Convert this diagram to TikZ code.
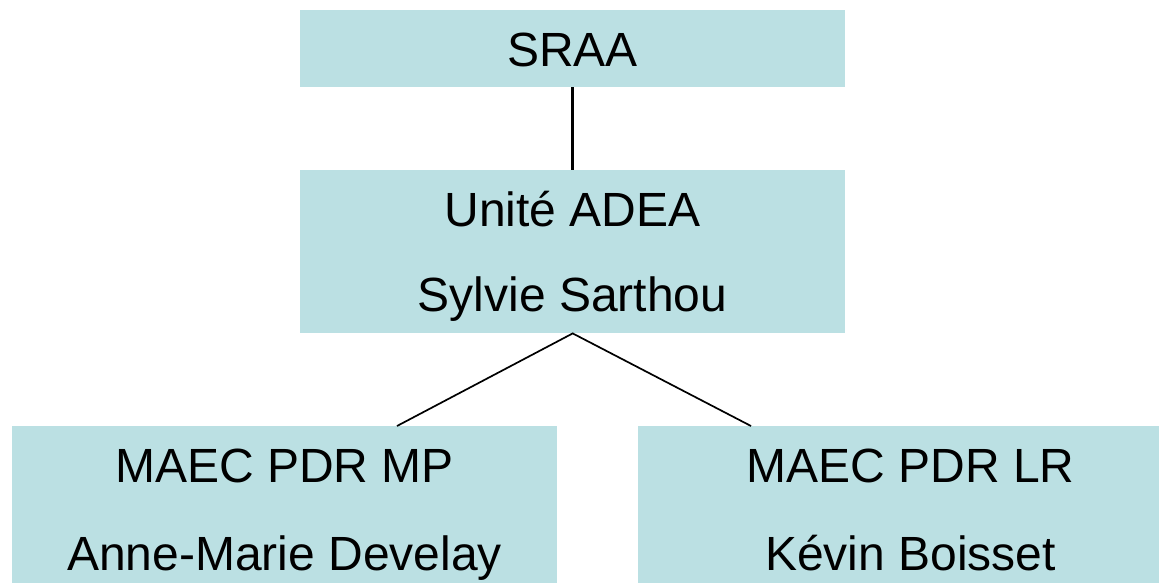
\documentclass[tikz,border=0pt]{standalone}
\usepackage{fontspec}
\setmainfont{Liberation Sans}
\usetikzlibrary{calc}
\definecolor{boxfill}{RGB}{187,224,227}
\begin{document}
\begin{tikzpicture}[x=1pt,y=-1pt,
  box/.style={fill=boxfill, draw=none, inner sep=0pt, anchor=north west, minimum width=545pt},
  lbl/.style={font=\fontsize{48}{58}\selectfont, anchor=base, inner sep=0pt},
  link/.style={draw=black, line width=1.7pt},
  stem/.style={draw=black, line width=2.8pt}]
\useasboundingbox (0,0) rectangle (1159,582);
\clip (0,0) rectangle (1159,582);
\node[box, minimum height=77pt] (sraa) at (300,10) {};
\node[box, minimum height=163pt] (adea) at (300,170) {};
\node[box, minimum height=163pt] (mp) at (12,426) {};
\node[box, minimum height=163pt] (lr) at (638,426) {};
\node[lbl] (t1) at (572.5,66) {SRAA};
\node[lbl] (t2) at (572.5,226) {Unité ADEA};
\node[lbl] (t3) at (572.5,311) {Sylvie Sarthou};
\node[lbl] (t4) at (284.5,482) {MAEC PDR MP};
\node[lbl] (t5) at (284.5,570) {Anne-Marie Develay};
\node[lbl] (t6) at (910.5,482) {MAEC PDR LR};
\node[lbl] (t7) at (910.5,570) {Kévin Boisset};
\coordinate (mptop) at ($(mp.north west)+(385,0)$);
\coordinate (lrtop) at ($(lr.north west)+(113,0)$);
\draw[stem] (sraa.south) -- (adea.north);
\draw[link] (mptop) -- (adea.south) -- (lrtop);
\end{tikzpicture}
\end{document}
